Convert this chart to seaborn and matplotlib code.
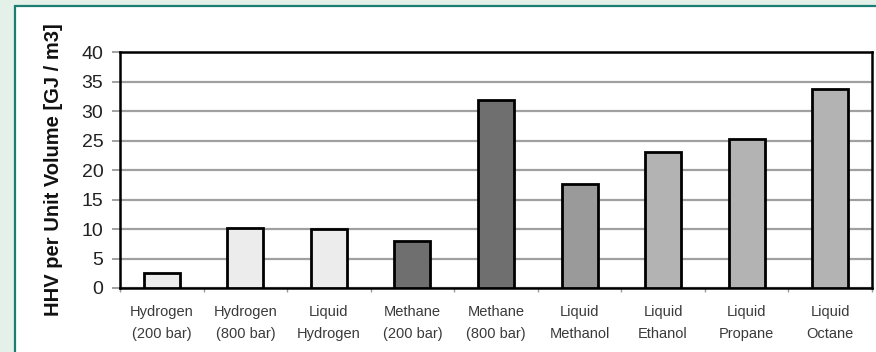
import seaborn as sns
import matplotlib.pyplot as plt
import pandas as pd
from matplotlib.patches import Rectangle
from matplotlib.ticker import FixedLocator

# dados
fuels = ["Hydrogen\n(200 bar)", "Hydrogen\n(800 bar)", "Liquid\nHydrogen",
         "Methane\n(200 bar)", "Methane\n(800 bar)", "Liquid\nMethanol",
         "Liquid\nEthanol", "Liquid\nPropane", "Liquid\nOctane"]
hhv = [2.6, 10.1, 10.0, 8.0, 31.9, 17.7, 23.1, 25.3, 33.7]
colors = ["#ececec", "#ececec", "#ececec", "#6f6f6f", "#6f6f6f",
          "#9a9a9a", "#b3b3b3", "#b3b3b3", "#b3b3b3"]
yticks = [0, 5, 10, 15, 20, 25, 30, 35, 40]

sns.set_style("white")
plt.rcParams['font.family'] = ['Liberation Sans', 'DejaVu Sans']

df = pd.DataFrame({"fuel": fuels, "hhv": hhv})

fig = plt.figure(figsize=(8.76, 3.52), dpi=100)
fig.patch.set_facecolor("#e4f1e9")
# moldura branca com borda verde
fig.patches.append(Rectangle((15 / 876, -0.05), 1, 1.05 - 6 / 352, transform=fig.transFigure,
                             facecolor="white", edgecolor="#1b7d74", linewidth=1.6,
                             zorder=-5))

ax = fig.add_axes([120 / 876, 1 - 288 / 352, (872 - 120) / 876, (288 - 52) / 352])
sns.barplot(data=df, x="fuel", y="hhv", hue="fuel", palette=colors, legend=False,
            width=0.43, edgecolor="black", linewidth=2, ax=ax, zorder=3)

ax.set_ylim(0, 40)
ax.set_xlim(-0.5, len(fuels) - 0.5)
ax.set_yticks(yticks)
ax.yaxis.grid(True, color="#a0a0a0", linewidth=1.6, zorder=0)
ax.set_axisbelow(True)
for s in ax.spines.values():
    s.set_color("black")
    s.set_linewidth(1.8)

ax.tick_params(axis="y", length=6, width=1.4, color="#a0a0a0", labelsize=14, pad=6,
               labelcolor="#222222", left=True)
ax.tick_params(axis="x", which="major", length=0, labelsize=10.5, pad=12,
               labelcolor="#3a3a3a")
ax.xaxis.set_minor_locator(FixedLocator([i + 0.5 for i in range(-1, len(fuels))]))
ax.tick_params(axis="x", which="minor", length=3, width=1, color="#999999", bottom=True)
for t in ax.get_xticklabels():
    t.set_linespacing(1.75)

ax.set_xlabel("")
ax.set_ylabel("HHV per Unit Volume [GJ / m3]", fontsize=14.5, fontweight="bold",
              color="#111111", labelpad=13)

fig.savefig("out.png", dpi=100, facecolor=fig.get_facecolor())
